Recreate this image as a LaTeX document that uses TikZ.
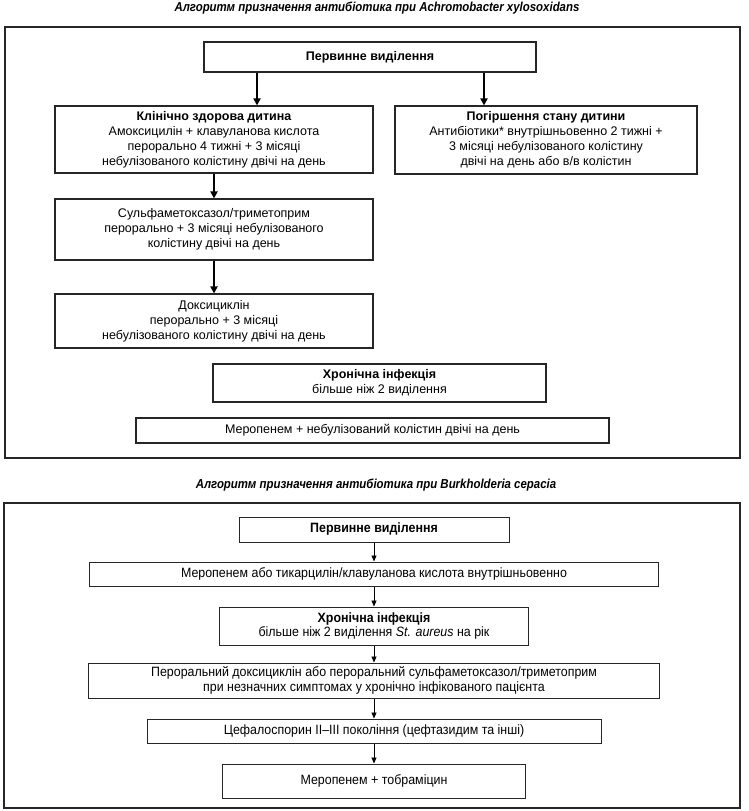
\documentclass[tikz,border=0pt]{standalone}
\usepackage{fontspec}
\setmainfont{Liberation Sans}
\newfontfamily\narrowfont{Liberation Sans}[FakeStretch=0.92]
\newfontfamily\titlefont{Liberation Sans}[FakeStretch=0.88]
\usetikzlibrary{arrows.meta}
\tikzset{
  topbox/.style={draw=black!85, line width=1.1pt, inner sep=0pt, align=center, font=\fontsize{12.5}{15}\selectfont},
  botbox/.style={draw=black!85, line width=1pt, inner sep=0pt, align=center, font=\narrowfont\fontsize{13.5}{14.5}\selectfont},
  frame/.style={draw=black!85, line width=1.3pt},
  ttl/.style={inner sep=0pt, font=\titlefont\bfseries\itshape\fontsize{13}{14}\selectfont},
  bigarr/.style={line width=1.8pt, -{Triangle[width=7pt,length=7pt]}},
  smallarr/.style={line width=0.8pt, -{Triangle[width=5pt,length=6pt]}}
}
\begin{document}
\begin{tikzpicture}[x=1pt,y=-1pt]
\useasboundingbox (0,0) rectangle (748,811);
% ---------- upper diagram ----------
\node[ttl] (t1) at (377,8) {Алгоритм призначення антибіотика при Achromobacter xylosoxidans};
\draw[frame] (5,27) rectangle (740,458);
\node[topbox, minimum width=332, minimum height=30] (p1) at (370,57) {\textbf{Первинне виділення}};
\node[topbox, minimum width=318, minimum height=67] (klin) at (214,139.5)
  {\textbf{Клінічно здорова дитина}\\Амоксицилін + клавуланова кислота\\перорально 4 тижні + 3 місяці\\небулізованого колістину двічі на день};
\node[topbox, minimum width=302, minimum height=68] (pog) at (546,140)
  {\textbf{Погіршення стану дитини}\\Антибіотики* внутрішньовенно 2 тижні +\\3 місяці небулізованого колістину\\двічі на день або в/в колістин};
\node[topbox, minimum width=318, minimum height=61] (sulf) at (214,229.5)
  {Сульфаметоксазол/триметоприм\\перорально + 3 місяці небулізованого\\колістину двічі на день};
\node[topbox, minimum width=318, minimum height=54] (dox) at (214,321)
  {Доксициклін\\перорально + 3 місяці\\небулізованого колістину двічі на день};
\node[topbox, minimum width=333, minimum height=38] (chr1) at (379.5,383)
  {\textbf{Хронічна інфекція}\\більше ніж 2 виділення};
\node[topbox, minimum width=473, minimum height=25] (mer1) at (372.5,430.5)
  {Меропенем + небулізований колістин двічі на день};
\draw[bigarr] ([xshift=-113pt]p1.south) -- ([xshift=-113pt]p1.south |- klin.north);
\draw[bigarr] ([xshift=114pt]p1.south) -- ([xshift=114pt]p1.south |- pog.north);
\draw[bigarr] (klin) -- (sulf);
\draw[bigarr] (sulf) -- (dox);
% ---------- lower diagram ----------
\node[ttl] (t2) at (376,485) {Алгоритм призначення антибіотика при Burkholderia cepacia};
\draw[frame] (4,503) rectangle (740,808);
\node[botbox, minimum width=270, minimum height=25] (p2) at (374,529.5) {\textbf{Первинне виділення}};
\node[botbox, minimum width=569, minimum height=24] (mer2) at (374,574)
  {Меропенем або тикарцилін/клавуланова кислота внутрішньовенно};
\node[botbox, minimum width=309, minimum height=38] (chr2) at (374,626)
  {\textbf{Хронічна інфекція}\\більше ніж 2 виділення \textit{St. aureus} на рік};
\node[botbox, minimum width=571, minimum height=35] (per) at (374,680.5)
  {Пероральний доксициклін або пероральний сульфаметоксазол/триметоприм\\при незначних симптомах у хронічно інфікованого пацієнта};
\node[botbox, minimum width=454, minimum height=24] (cef) at (374,731)
  {Цефалоспорин II–III покоління (цефтазидим та інші)};
\node[botbox, minimum width=303, minimum height=34] (mt) at (374,781)
  {Меропенем + тобраміцин};
\draw[smallarr] (p2) -- (mer2);
\draw[smallarr] (mer2) -- (chr2);
\draw[smallarr] (chr2) -- (per);
\draw[smallarr] (per) -- (cef);
\draw[smallarr] (cef) -- (mt);
\end{tikzpicture}
\end{document}
